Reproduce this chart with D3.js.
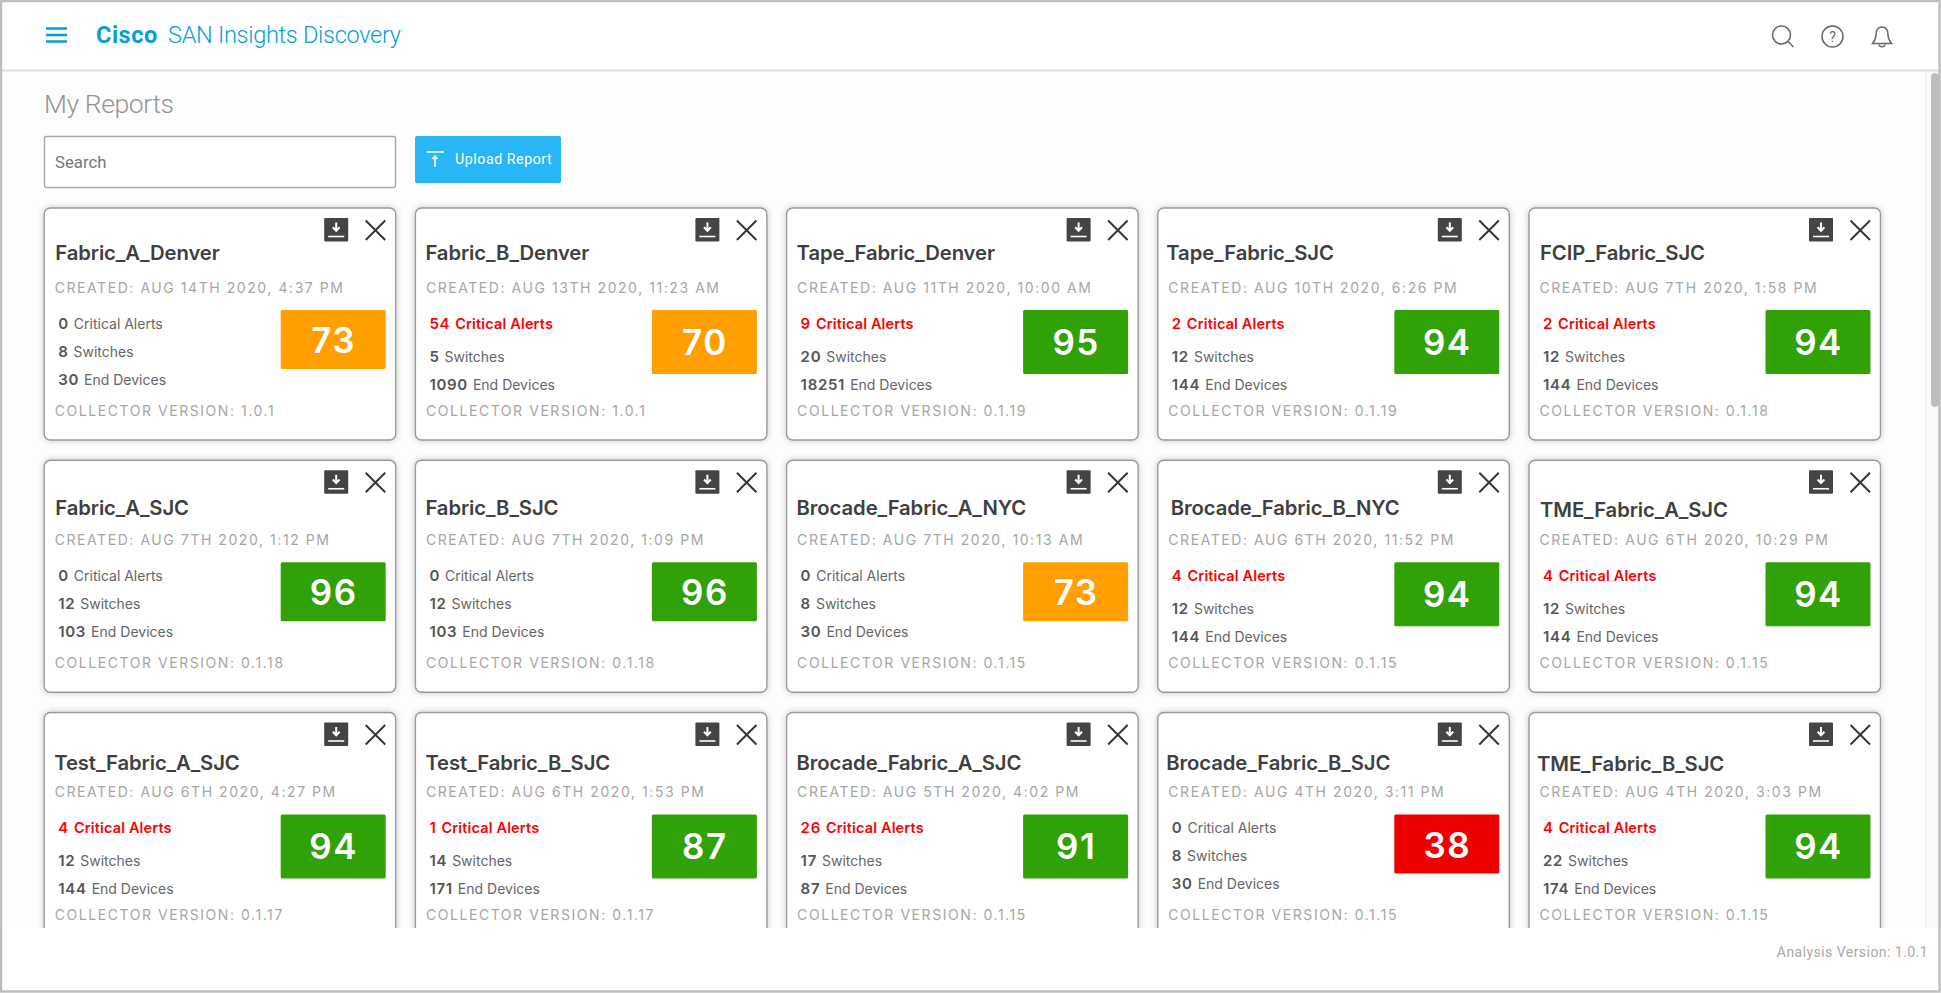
<!DOCTYPE html>
<html>
<head>
<meta charset="utf-8">
<title>My Reports</title>
<script src="https://cdn.jsdelivr.net/npm/d3@7"></script>
<style>
  body { margin: 0; background: #fff; overflow: hidden; }
  svg { display: block; }
  text { font-family: Inter, "Noto Sans", sans-serif; }
  .rb { font-family: Roboto, sans-serif; }
  .title { font-size: 20.3px; font-weight: 600; fill: #3f3f3f; letter-spacing: -0.1px; }
  .meta { font-size: 14px; fill: #a6a6a6; letter-spacing: 1.56px; }
  .stat { font-size: 14px; fill: #666; }
  .stat .n { font-size: 15px; font-weight: 600; fill: #555; letter-spacing: 0.7px; }
  .stat.alert { font-size: 14.5px; letter-spacing: 0.15px; }
  .stat.alert, .stat.alert .n { fill: #f00; font-weight: 600; }
  .score { font-size: 35px; font-weight: 600; fill: #fff; text-anchor: middle; letter-spacing: 1.5px; }
</style>
</head>
<body>
<svg id="page" width="1941" height="993"></svg>
<script>
const reports = [
  { name: "Fabric_A_Denver", created: "AUG 14TH 2020, 4:37 PM", alerts: 0, switches: 8, devices: 30, version: "1.0.1", score: 73, tx: 11, ty: 52 },
  { name: "Fabric_B_Denver", created: "AUG 13TH 2020, 11:23 AM", alerts: 54, switches: 5, devices: 1090, version: "1.0.1", score: 70, tx: 10, ty: 52 },
  { name: "Tape_Fabric_Denver", created: "AUG 11TH 2020, 10:00 AM", alerts: 9, switches: 20, devices: 18251, version: "0.1.19", score: 95, tx: 10, ty: 52 },
  { name: "Tape_Fabric_SJC", created: "AUG 10TH 2020, 6:26 PM", alerts: 2, switches: 12, devices: 144, version: "0.1.19", score: 94, tx: 8.5, ty: 52 },
  { name: "FCIP_Fabric_SJC", created: "AUG 7TH 2020, 1:58 PM", alerts: 2, switches: 12, devices: 144, version: "0.1.18", score: 94, tx: 11, ty: 52 },
  { name: "Fabric_A_SJC", created: "AUG 7TH 2020, 1:12 PM", alerts: 0, switches: 12, devices: 103, version: "0.1.18", score: 96, tx: 11, ty: 55 },
  { name: "Fabric_B_SJC", created: "AUG 7TH 2020, 1:09 PM", alerts: 0, switches: 12, devices: 103, version: "0.1.18", score: 96, tx: 10, ty: 55 },
  { name: "Brocade_Fabric_A_NYC", created: "AUG 7TH 2020, 10:13 AM", alerts: 0, switches: 8, devices: 30, version: "0.1.15", score: 73, tx: 10, ty: 55 },
  { name: "Brocade_Fabric_B_NYC", created: "AUG 6TH 2020, 11:52 PM", alerts: 4, switches: 12, devices: 144, version: "0.1.15", score: 94, tx: 13, ty: 55 },
  { name: "TME_Fabric_A_SJC", created: "AUG 6TH 2020, 10:29 PM", alerts: 4, switches: 12, devices: 144, version: "0.1.15", score: 94, tx: 11, ty: 57 },
  { name: "Test_Fabric_A_SJC", created: "AUG 6TH 2020, 4:27 PM", alerts: 4, switches: 12, devices: 144, version: "0.1.17", score: 94, tx: 10, ty: 57.5 },
  { name: "Test_Fabric_B_SJC", created: "AUG 6TH 2020, 1:53 PM", alerts: 1, switches: 14, devices: 171, version: "0.1.17", score: 87, tx: 10, ty: 57.5 },
  { name: "Brocade_Fabric_A_SJC", created: "AUG 5TH 2020, 4:02 PM", alerts: 26, switches: 17, devices: 87, version: "0.1.15", score: 91, tx: 10, ty: 57.5 },
  { name: "Brocade_Fabric_B_SJC", created: "AUG 4TH 2020, 3:11 PM", alerts: 0, switches: 8, devices: 30, version: "0.1.15", score: 38, tx: 8.5, ty: 57.5 },
  { name: "TME_Fabric_B_SJC", created: "AUG 4TH 2020, 3:03 PM", alerts: 4, switches: 22, devices: 174, version: "0.1.15", score: 94, tx: 8, ty: 58 }
]

const cardW = 351.5, cardH = 232
const xScale = d3.scaleLinear().domain([0, 4]).range([44.2, 1529])
const yScale = d3.scaleLinear().domain([0, 2]).range([208, 712.5])
const scoreColor = d3.scaleThreshold().domain([50, 85]).range(["#ee0000", "#ff9f00", "#30a106"])

const svg = d3.select("#page")
const blue = "#049fd9"

svg.append("rect").attr("width", 1941).attr("height", 993).attr("fill", "#fdfdfd")

// soft shadow behind the cards
const shadow = svg.append("defs").append("filter").attr("id", "shadow")
  .attr("x", "-5%").attr("y", "-5%").attr("width", "110%").attr("height", "110%")
shadow.append("feDropShadow").attr("dx", 0).attr("dy", 0).attr("stdDeviation", 3)
  .attr("flood-color", "#000").attr("flood-opacity", 0.22)

// Cards
const cards = svg.selectAll("g.card")
  .data(reports)
  .enter()
  .append("g")
  .attr("class", "card")
  .attr("transform", (d, i) => `translate(${xScale(i % 5)},${yScale(Math.floor(i / 5))})`)

cards.append("rect")
  .attr("width", cardW).attr("height", cardH).attr("rx", 6)
  .attr("fill", "#fff").attr("stroke", "#9a9a9a").attr("stroke-width", 1.4)
  .attr("filter", "url(#shadow)")

cards.append("text").attr("class", "title")
  .attr("x", d => d.tx).attr("y", d => d.ty).text(d => d.name)

cards.append("text").attr("class", "meta")
  .attr("x", 10.5).attr("y", 84.8).text(d => "CREATED: " + d.created)

cards.append("text").attr("class", "meta")
  .attr("x", 10.5).attr("y", 207.8).text(d => "COLLECTOR VERSION: " + d.version)

// the alert line is taller when there are critical alerts
const lineY = (d, line) => line === 0 ? 120.5 : (d.alerts > 0 ? 153.5 : 148.7) + (line - 1) * 28

function statLine(cls, line, value, label) {
  const t = cards.append("text")
    .attr("class", d => "stat " + cls(d))
    .attr("x", 14).attr("y", d => lineY(d, line))
  t.append("tspan").attr("class", "n").text(value)
  t.append("tspan").attr("dx", 5).text(label)
}
statLine(d => d.alerts > 0 ? "alert" : "", 0, d => d.alerts, "Critical Alerts")
statLine(() => "", 1, d => d.switches, "Switches")
statLine(() => "", 2, d => d.devices, "End Devices")

cards.append("rect")
  .attr("x", 236.5).attr("y", 102).attr("width", 105).attr("rx", 1.5)
  .attr("height", d => d.alerts > 0 ? 64 : 59)
  .attr("fill", d => scoreColor(d.score))

cards.append("text").attr("class", "score")
  .attr("x", 289.5).attr("y", d => d.alerts > 0 ? 146.5 : 145)
  .text(d => d.score)

// download icon
const dl = cards.append("g").attr("transform", "translate(280,10)")
dl.append("rect").attr("width", 24).attr("height", 23.5).attr("rx", 1).attr("fill", "#444")
dl.append("path").attr("d", "M12 4.5V12M8.6 9.2L12 12.8L15.4 9.2").attr("fill", "none").attr("stroke", "#fff").attr("stroke-width", 2)
dl.append("path").attr("d", "M4 18.5H20").attr("stroke", "#fff").attr("stroke-width", 1.6)

// close icon
cards.append("path").attr("d", "M321.5 12.5L341 32M341 12.5L321.5 32")
  .attr("stroke", "#333").attr("stroke-width", 1.9).attr("fill", "none")

// Footer (cuts the third row off)
svg.append("rect").attr("x", 0).attr("y", 928).attr("width", 1941).attr("height", 65).attr("fill", "#fff")
svg.append("text").attr("class", "rb")
  .attr("x", 1928).attr("y", 957).attr("text-anchor", "end")
  .attr("font-size", 14).attr("letter-spacing", 0.45).attr("fill", "#aaa")
  .text("Analysis Version: 1.0.1")

// Scrollbar
svg.append("rect").attr("x", 1926).attr("y", 71).attr("width", 13).attr("height", 857).attr("fill", "#fafafa")
svg.append("path").attr("d", "M1926 71V928").attr("stroke", "#ebebeb").attr("stroke-width", 1)
svg.append("rect").attr("x", 1931).attr("y", 73).attr("width", 8).attr("height", 334).attr("rx", 4).attr("fill", "#bdbdbd")

// Header
svg.append("rect").attr("width", 1941).attr("height", 70).attr("fill", "#fff")
svg.append("path").attr("d", "M0 70.5H1941").attr("stroke", "#dedede").attr("stroke-width", 2)

svg.append("path").attr("d", "M46 28.5H67M46 35H67M46 41.5H67")
  .attr("stroke", blue).attr("stroke-width", 2.6).attr("fill", "none")

svg.append("text").attr("class", "rb").attr("x", 96).attr("y", 43)
  .attr("font-size", 23.5).attr("font-weight", 700).attr("letter-spacing", 0.5).attr("fill", blue).text("Cisco")
svg.append("text").attr("class", "rb").attr("x", 168).attr("y", 43)
  .attr("font-size", 23.5).attr("font-weight", 300).attr("letter-spacing", -0.28).attr("fill", blue).text("SAN Insights Discovery")

// header icons
const ic = svg.append("g").attr("fill", "none").attr("stroke", "#666").attr("stroke-width", 1.5)
ic.append("circle").attr("cx", 1781.5).attr("cy", 35).attr("r", 9)
ic.append("path").attr("d", "M1788 41.5L1793.5 47")
ic.append("circle").attr("cx", 1832.5).attr("cy", 36.5).attr("r", 10.5)
svg.append("text").attr("class", "rb").attr("x", 1832.5).attr("y", 41.5).attr("text-anchor", "middle")
  .attr("font-size", 14).attr("fill", "#666").text("?")
ic.append("path").attr("d", "M1882 27C1877 27 1876 31 1876 35C1876 39 1874.5 41 1872.5 43.5H1891.5C1889.5 41 1888 39 1888 35C1888 31 1887 27 1882 27Z")
ic.append("path").attr("d", "M1879 44.5C1879.5 47.5 1884.5 47.5 1885 44.5")

// Title row
svg.append("text").attr("class", "rb").attr("x", 44).attr("y", 113)
  .attr("font-size", 26.5).attr("font-weight", 300).attr("letter-spacing", -0.4).attr("fill", "#959595").text("My Reports")

svg.append("rect").attr("x", 44.5).attr("y", 136.5).attr("width", 351).attr("height", 51).attr("rx", 2)
  .attr("fill", "#fff").attr("stroke", "#a8a8a8").attr("stroke-width", 1.4)
svg.append("text").attr("class", "rb").attr("x", 55).attr("y", 168)
  .attr("font-size", 16.8).attr("fill", "#777").text("Search")

svg.append("rect").attr("x", 415).attr("y", 136).attr("width", 146).attr("height", 47).attr("rx", 2).attr("fill", "#29b6f6")
svg.append("path").attr("d", "M426.5 152H444M435 167V156.5M432.5 159L435 156L437.5 159")
  .attr("stroke", "#fff").attr("stroke-width", 1.6).attr("fill", "none")
svg.append("text").attr("class", "rb").attr("x", 455).attr("y", 164)
  .attr("font-size", 14.2).attr("font-weight", 400).attr("letter-spacing", 0.55).attr("fill", "#fff").text("Upload Report")

// Outer frame
svg.append("rect").attr("x", 1).attr("y", 1).attr("width", 1938.5).attr("height", 990.5)
  .attr("fill", "none").attr("stroke", "#bdbdbd").attr("stroke-width", 2.4)
</script>
</body>
</html>
